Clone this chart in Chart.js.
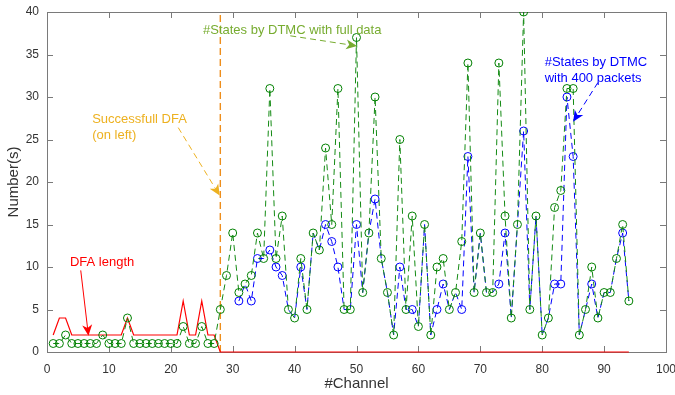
<!DOCTYPE html>
<html>
<head>
<meta charset="utf-8">
<script src="https://cdn.jsdelivr.net/npm/chart.js@4.4.1/dist/chart.umd.min.js"></script>
<style>
  body { margin: 0; background: #fff; }
  #wrap { width: 675px; height: 395px; }
</style>
</head>
<body>
<div id="wrap"><canvas id="chart" width="675" height="395"></canvas></div>
<script>
const channels = [
  1, 2, 3, 4, 5, 6, 7, 8, 9, 10,
  11, 12, 13, 14, 15, 16, 17, 18, 19, 20,
  21, 22, 23, 24, 25, 26, 27, 28, 29, 30,
  31, 32, 33, 34, 35, 36, 37, 38, 39, 40,
  41, 42, 43, 44, 45, 46, 47, 48, 49, 50,
  51, 52, 53, 54, 55, 56, 57, 58, 59, 60,
  61, 62, 63, 64, 65, 66, 67, 68, 69, 70,
  71, 72, 73, 74, 75, 76, 77, 78, 79, 80,
  81, 82, 83, 84, 85, 86, 87, 88, 89, 90,
  91, 92, 93, 94
];

// #States by DTMC with full data
const fullData = [
  1, 1, 2, 1, 1, 1, 1, 1, 2, 1,
  1, 1, 4, 1, 1, 1, 1, 1, 1, 1,
  1, 3, 1, 1, 3, 1, 1, 5, 9, 14,
  7, 8, 9, 14, 11, 31, 11, 16, 5, 4,
  11, 5, 14, 12, 24, 15, 31, 5, 5, 37,
  7, 14, 30, 11, 7, 2, 25, 5, 16, 3,
  15, 2, 10, 11, 5, 7, 13, 34, 7, 14,
  7, 7, 34, 16, 4, 15, 40, 5, 16, 2,
  4, 17, 19, 31, 31, 2, 5, 10, 4, 7,
  7, 11, 15, 6
];

// #States by DTMC with 400 packets
const packets400 = [
  null, null, null, null, null, null, null, null, null, null,
  null, null, null, null, null, null, null, null, null, null,
  null, null, null, null, null, null, null, null, null, null,
  6, 8, 6, 11, 11, 12, 10, 9, 5, 4,
  10, 5, 14, 12, 15, 13, 10, 5, 5, 15,
  7, 14, 18, 11, 7, 2, 10, 5, 5, 3,
  15, 2, 5, 8, 5, 7, 5, 23, 7, 14,
  7, 7, 8, 14, 4, 15, 26, 5, 16, 2,
  4, 8, 8, 30, 23, 2, 5, 8, 4, 7,
  7, 11, 14, 6
];

const dfaLength = [
  2, 4, 4, 2, 2, 2, 2, 2, 2, 2,
  2, 2, 4, 2, 2, 2, 2, 2, 2, 2,
  2, 6, 2, 2, 6, 2, 2, 0, 0, 0,
  0, 0, 0, 0, 0, 0, 0, 0, 0, 0,
  0, 0, 0, 0, 0, 0, 0, 0, 0, 0,
  0, 0, 0, 0, 0, 0, 0, 0, 0, 0,
  0, 0, 0, 0, 0, 0, 0, 0, 0, 0,
  0, 0, 0, 0, 0, 0, 0, 0, 0, 0,
  0, 0, 0, 0, 0, 0, 0, 0, 0, 0,
  0, 0, 0, 0
];

const dfaBoundary = 28;
const boundaryRange = [0, 40];

const xTicks = [0, 10, 20, 30, 40, 50, 60, 70, 80, 90, 100];
const yTicks = [0, 5, 10, 15, 20, 25, 30, 35, 40];

const FONT = "'Liberation Sans', Arial, Helvetica, sans-serif";

function toPoints(ys) {
  return channels.map((c, i) => ({ x: c, y: ys[i] }));
}

// text + arrow annotations, placed in data units
const notes = [
  { lines: ["DFA length"], at: [3.7, 10.5], color: "#ff0000",
    from: [5.45, 9.6], to: [6.7, 1.9], dash: [] },
  { lines: ["Successfull DFA", "(on left)"], at: [7.3, 27.4], color: "#edb120",
    from: [21.2, 26.4], to: [27.9, 18.4], dash: [6, 4] },
  { lines: ["#States by DTMC with full data"], at: [25.2, 37.8], color: "#77ac30",
    from: [39.3, 37.2], to: [50.1, 36.0], dash: [6, 4] },
  { lines: ["#States by DTMC", "with 400 packets"], at: [80.4, 34.1], color: "#0000ff",
    from: [89.0, 31.7], to: [85.0, 27.1], dash: [6, 4] }
];

const framePlugin = {
  id: "frame",
  beforeDatasetsDraw(chart) {
    const { ctx, chartArea: a, scales: { x, y } } = chart;
    ctx.save();
    ctx.strokeStyle = "#7a7a7a";
    ctx.lineWidth = 1;
    ctx.strokeRect(a.left + 0.5, a.top + 0.5, a.right - a.left, a.bottom - a.top);
    ctx.beginPath();
    xTicks.forEach(v => {
      const px = Math.round(x.getPixelForValue(v)) + 0.5;
      ctx.moveTo(px, a.bottom); ctx.lineTo(px, a.bottom - 6);
      ctx.moveTo(px, a.top); ctx.lineTo(px, a.top + 6);
    });
    yTicks.forEach(v => {
      const py = Math.round(y.getPixelForValue(v)) + 0.5;
      ctx.moveTo(a.left, py); ctx.lineTo(a.left + 6, py);
      ctx.moveTo(a.right, py); ctx.lineTo(a.right - 6, py);
    });
    ctx.stroke();
    ctx.restore();
  }
};

function arrowHead(ctx, x0, y0, x1, y1) {
  const ang = Math.atan2(y1 - y0, x1 - x0);
  const len = 11, half = 5, notch = 3;
  const c = Math.cos(ang), s = Math.sin(ang);
  const bx = x1 - len * c, by = y1 - len * s;
  ctx.beginPath();
  ctx.moveTo(x1, y1);
  ctx.lineTo(bx - half * s, by + half * c);
  ctx.lineTo(x1 - (len - notch) * c, y1 - (len - notch) * s);
  ctx.lineTo(bx + half * s, by - half * c);
  ctx.closePath();
  ctx.fill();
}

const notesPlugin = {
  id: "notes",
  afterDatasetsDraw(chart) {
    const { ctx, scales: { x, y } } = chart;
    ctx.save();
    ctx.font = "13px " + FONT;
    ctx.textBaseline = "middle";
    ctx.textAlign = "left";
    notes.forEach(n => {
      ctx.fillStyle = n.color;
      ctx.strokeStyle = n.color;
      const tx = x.getPixelForValue(n.at[0]);
      const ty = y.getPixelForValue(n.at[1]);
      n.lines.forEach((t, i) => ctx.fillText(t, tx, ty + i * 16));
      const x0 = x.getPixelForValue(n.from[0]), y0 = y.getPixelForValue(n.from[1]);
      const x1 = x.getPixelForValue(n.to[0]), y1 = y.getPixelForValue(n.to[1]);
      const ang = Math.atan2(y1 - y0, x1 - x0);
      ctx.lineWidth = 1;
      ctx.setLineDash(n.dash);
      ctx.beginPath();
      ctx.moveTo(x0, y0);
      ctx.lineTo(x1 - 7 * Math.cos(ang), y1 - 7 * Math.sin(ang));
      ctx.stroke();
      ctx.setLineDash([]);
      arrowHead(ctx, x0, y0, x1, y1);
    });
    ctx.restore();
  }
};

function initChart() {
  const ctx = document.getElementById("chart");
  new Chart(ctx, {
    type: "line",
    data: {
      datasets: [
        {
          label: "#States by DTMC with full data",
          data: toPoints(fullData),
          borderColor: "#138a13",
          borderWidth: 1,
          borderDash: [6, 4],
          pointRadius: 4,
          pointBorderWidth: 1,
          pointBorderColor: "#008000",
          pointBackgroundColor: "rgba(0,0,0,0)",
          tension: 0
        },
        {
          label: "#States by DTMC with 400 packets",
          data: toPoints(packets400),
          borderColor: "#0000ff",
          borderWidth: 1,
          borderDash: [6, 4],
          // blue marker hidden where it sits exactly under the green one
          pointRadius: c => (packets400[c.dataIndex] === fullData[c.dataIndex] ? 0 : 4),
          pointBorderWidth: 1,
          pointBorderColor: "#0000ff",
          pointBackgroundColor: "rgba(0,0,0,0)",
          spanGaps: false,
          tension: 0
        },
        {
          label: "DFA length",
          data: toPoints(dfaLength),
          borderColor: "#ff0000",
          borderWidth: 1.2,
          pointRadius: 0,
          clip: false,
          tension: 0
        },
        {
          label: "Successfull DFA",
          data: boundaryRange.map(v => ({ x: dfaBoundary, y: v })),
          borderColor: "#ee8e1c",
          borderWidth: 1.4,
          borderDash: [7, 4],
          pointRadius: 0
        }
      ]
    },
    options: {
      responsive: false,
      animation: false,
      layout: { padding: { top: 12, right: 9, left: 0, bottom: 0 } },
      plugins: { legend: { display: false }, tooltip: { enabled: false } },
      scales: {
        x: {
          type: "linear",
          min: 0, max: 100,
          grid: { display: false, drawTicks: false },
          border: { display: false },
          ticks: { stepSize: 10, padding: 10, color: "#333", font: { family: FONT, size: 12 }, maxRotation: 0 },
          title: { display: true, text: "#Channel", color: "#333",
                   font: { family: FONT, size: 15, lineHeight: 1.2 }, padding: { bottom: 2, top: 0 } },
          afterFit(s) { s.height = 43; s.paddingLeft = 0; s.paddingRight = 0; }
        },
        y: {
          min: 0, max: 40,
          grid: { display: false, drawTicks: false },
          border: { display: false },
          ticks: { stepSize: 5, padding: 8, color: "#333", font: { family: FONT, size: 12 } },
          title: { display: true, text: "Number(s)", color: "#333",
                   font: { family: FONT, size: 15, lineHeight: 1.2 }, padding: { top: 5, bottom: 0 } },
          afterFit(s) { s.width = 47; s.paddingTop = 0; s.paddingBottom = 0; }
        }
      }
    },
    plugins: [framePlugin, notesPlugin]
  });
}

window.onload = () => {
  initChart();
};
</script>
</body>
</html>
